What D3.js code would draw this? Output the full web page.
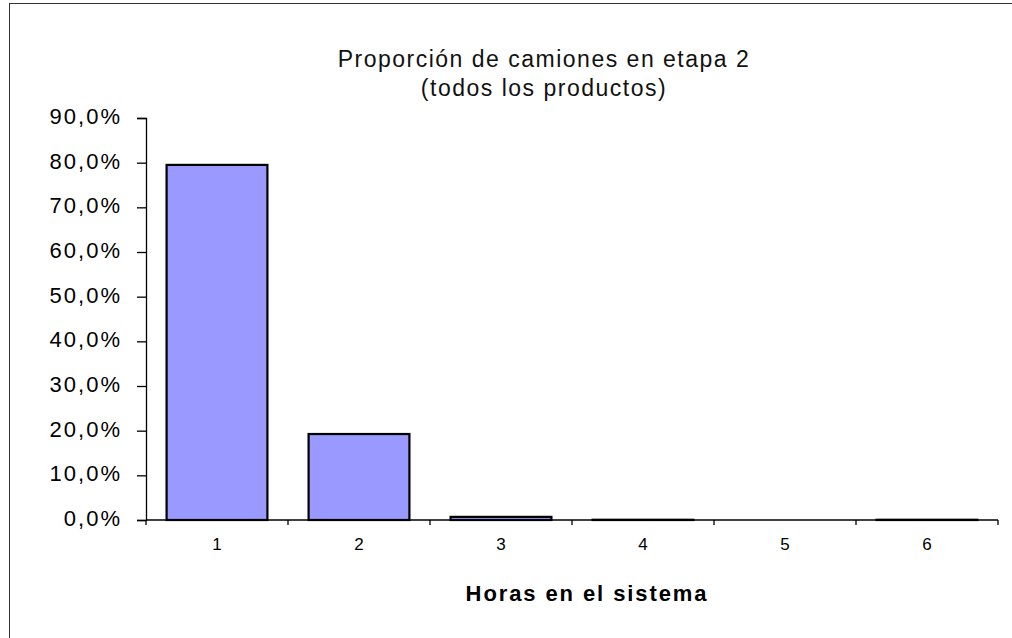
<!DOCTYPE html>
<meta charset="utf-8">
<script src="https://d3js.org/d3.v7.min.js"></script>
<style>
  body { margin: 0; background: #fff; }
  text { font-family: "Liberation Sans", Arial, sans-serif; }
</style>
<div id="chart"></div>
<script>
// data
const hours = ["1", "2", "3", "4", "5", "6"]
const share = [0.795, 0.1925, 0.007, 0.0005, 0, 0.0005]
const yTicks = [0, 0.1, 0.2, 0.3, 0.4, 0.5, 0.6, 0.7, 0.8, 0.9]
const titleLines = ["Proporción de camiones en etapa 2", "(todos los productos)"]
const xTitle = "Horas en el sistema"

const W = 1012, H = 638
const margin = {top: 118, right: 14, bottom: 118, left: 146}
const width = W - margin.left - margin.right,
      height = H - margin.top - margin.bottom

const svg = d3.select("#chart").append("svg")
    .attr("width", W)
    .attr("height", H)

// outer chart frame
svg.append("rect")
    .attr("x", 9.5).attr("y", 3.5)
    .attr("width", W + 10).attr("height", H + 10)
    .attr("fill", "none")
    .attr("stroke", "#333")
    .attr("stroke-width", 1)

const g = svg.append("g")
    .attr("transform", "translate(" + margin.left + "," + margin.top + ")")

const x = d3.scaleBand()
    .domain(hours)
    .range([0, width])
    .paddingInner(0.29)
    .paddingOuter(0.145)

const y = d3.scaleLinear()
    .domain([0, 0.9])
    .range([height, 0])

const fmt = d => d3.format(".1%")(d).replace(".", ",")

// y axis
const yAxis = g.append("g")
    .call(d3.axisLeft(y).tickValues(yTicks).tickFormat(fmt).tickSize(9).tickPadding(15))
yAxis.select(".domain").attr("stroke", "#000").attr("stroke-width", 1.3)
yAxis.selectAll(".tick line").attr("stroke-width", 1.3)
yAxis.selectAll("text")
    .attr("font-size", 22)
    .attr("letter-spacing", 2)
    .attr("dy", "0.25em")
    .attr("fill", "#000")

// x axis (ticks between categories)
const step = width / hours.length
const xAxis = g.append("g").attr("transform", "translate(0," + height + ")")
xAxis.append("line")
    .attr("x1", 0).attr("x2", width)
    .attr("stroke", "#000").attr("stroke-width", 1.3)
xAxis.selectAll(".xt")
    .data(d3.range(hours.length + 1))
    .join("line")
    .attr("x1", i => i * step).attr("x2", i => i * step)
    .attr("y1", 0).attr("y2", 5)
    .attr("stroke", "#000").attr("stroke-width", 1.3)
xAxis.selectAll(".xl")
    .data(hours)
    .join("text")
    .attr("x", d => x(d) + x.bandwidth() / 2)
    .attr("y", 30)
    .attr("text-anchor", "middle")
    .attr("font-size", 17)
    .text(d => d)

// bars
g.selectAll(".bar")
    .data(hours.map((h, i) => ({h: h, v: share[i]})).filter(d => d.v > 0))
    .join("rect")
    .attr("x", d => x(d.h))
    .attr("width", x.bandwidth())
    .attr("y", d => y(d.v))
    .attr("height", d => height - y(d.v))
    .attr("fill", "#9999ff")
    .attr("stroke", "#000")
    .attr("stroke-width", 2.2)

// titles
svg.selectAll(".title")
    .data(titleLines)
    .join("text")
    .attr("x", 544)
    .attr("y", (d, i) => 67 + i * 29)
    .attr("text-anchor", "middle")
    .attr("font-size", 23)
    .attr("letter-spacing", 1.5)
    .attr("fill", "#111")
    .text(d => d)

svg.append("text")
    .attr("x", 587)
    .attr("y", 601)
    .attr("text-anchor", "middle")
    .attr("font-size", 22)
    .attr("letter-spacing", 1.9)
    .attr("font-weight", "bold")
    .text(xTitle)
</script>
